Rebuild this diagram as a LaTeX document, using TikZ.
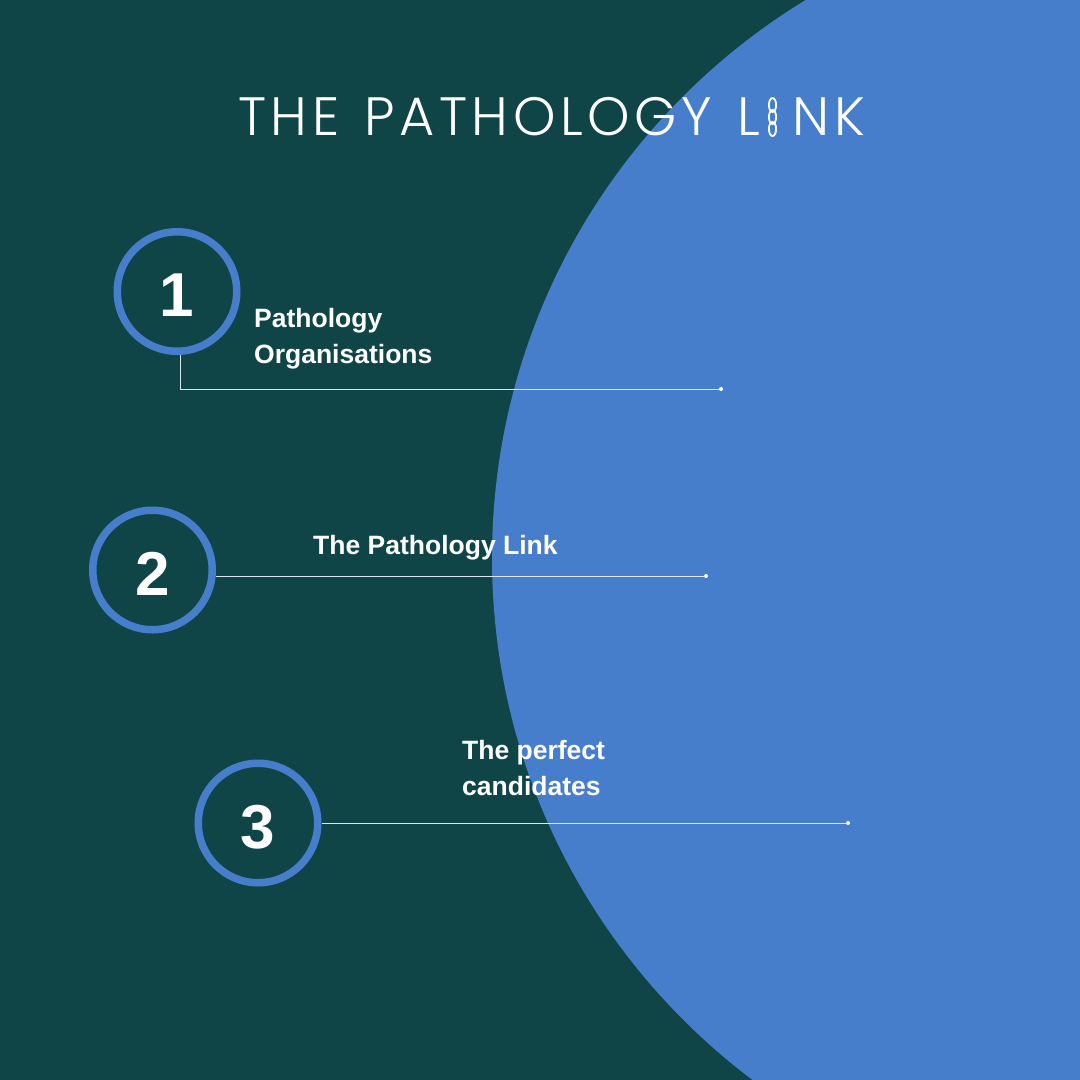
\documentclass[tikz,border=0pt]{standalone}
\usepackage{fontspec}
\setmainfont{Liberation Sans}
\newfontfamily\titlefont[LetterSpace=8.5, WordSpace=1.3]{Poppins Light}
\definecolor{darkteal}{HTML}{104547}
\definecolor{linkblue}{HTML}{477ECB}
\tikzset{
    numring/.style={circle, draw=linkblue, line width=7.5pt, minimum size=119.5pt, inner sep=0pt, text=white, text height=50pt, text depth=0pt, font=\fontsize{62}{62}\selectfont\bfseries},
    itemtext/.style={text=white, anchor=north west, align=left, inner sep=0pt, font=\fontsize{26.5}{36}\selectfont\bfseries},
    leadline/.style={white!80!linkblue, line width=0.6pt},
    enddot/.style={circle, fill=white, inner sep=0pt, minimum size=4pt},
    chainlink/.style={draw=white, line width=1.8pt}
}
\begin{document}
\begin{tikzpicture}[x=1pt, y=-1pt]
    % Background
    \useasboundingbox (0,0) rectangle (1080,1080);
    \fill [darkteal] (0,0) rectangle (1080,1080);
    \begin{scope}
        \clip (0,0) rectangle (1080,1080);
        \fill [linkblue] (1145,558) circle (653);
    \end{scope}
    % Title
    \node [text=white, inner sep=0pt, anchor=base west] (title) at (238,135) {\titlefont\fontsize{54}{54}\selectfont THE PATHOLOGY L\hspace{9pt}{\pgfsetfillopacity{0}I\pgfsetfillopacity{1}}\hspace{11pt}NK};
    % Chain in place of the I
    \draw [chainlink] (772.5,105) ellipse (3.6 and 7);
    \draw [chainlink] (772.5,117) ellipse (3.6 and 7);
    \draw [chainlink] (772.5,129) ellipse (3.6 and 7);
    % Rings
    \node [numring] (ringa) at (177,291.5) {1};
    \node [numring] (ringb) at (152.5,570) {2};
    \node [numring] (ringc) at (258,823) {3};
    % Labels
    \node [itemtext] (texta) at (254,308) {Pathology\\Organisations};
    \node [itemtext] (textb) at (313,535) {The Pathology Link};
    \node [itemtext] (textc) at (462,740) {The perfect\\candidates};
    % Lead lines
    \coordinate (benda) at (180,389);
    \node [enddot] (dota) at (721,389) {};
    \node [enddot] (dotb) at (706,576) {};
    \node [enddot] (dotc) at (848,823) {};
    \draw [leadline] (ringa.south -| benda) -- (benda) -- (dota);
    \draw [leadline] (ringb.east |- dotb) -- (dotb);
    \draw [leadline] (ringc.east) -- (dotc);
\end{tikzpicture}
\end{document}
